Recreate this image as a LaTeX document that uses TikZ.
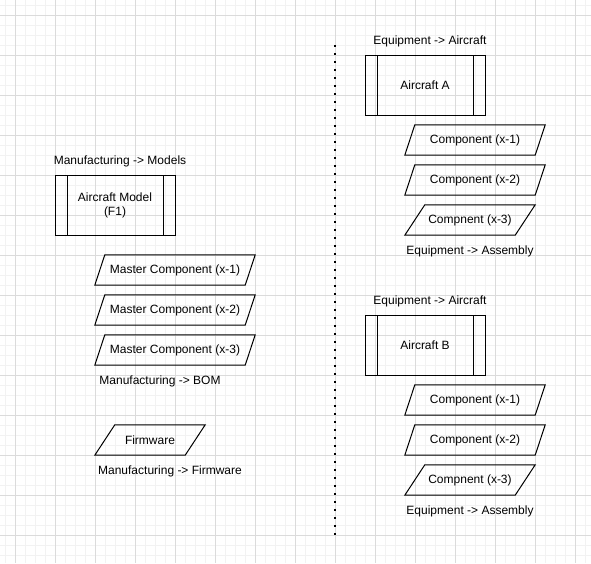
\documentclass[tikz,border=0pt]{standalone}
\usepackage{fontspec}
\setmainfont{Liberation Sans}

\tikzset{
  gridminor/.style={line width=1pt, color=black!5},
  gridmajor/.style={line width=1pt, color=black!14},
  lbl/.style={anchor=base, inner sep=0},
  process/.style={draw, line width=1pt, minimum width=120, minimum height=60, align=center,
    path picture={\draw[line width=1pt]
      ([xshift=12]path picture bounding box.north west) -- ([xshift=12]path picture bounding box.south west)
      ([xshift=-12]path picture bounding box.north east) -- ([xshift=-12]path picture bounding box.south east);}},
  % #1: width of the body, #2: half of the slant
  para/.style 2 args={minimum width=#1, minimum height=30, inner sep=0,
    append after command={\pgfextra{\draw[line width=1pt, line join=miter]
      ([xshift=#2]\tikzlastnode.north west) -- ([xshift=#2]\tikzlastnode.north east) --
      ([xshift=-#2]\tikzlastnode.south east) -- ([xshift=-#2]\tikzlastnode.south west) -- cycle;}}},
  divider/.style={line width=2pt, dash pattern=on 2pt off 6pt}
}

\begin{document}
\begin{tikzpicture}[x=1pt,y=-1pt,font=\fontsize{12}{14}\selectfont]
\useasboundingbox (0,0) rectangle (591,563);
\fill[white] (0,0) rectangle (591,563);

% background grid
\foreach \g in {5,15,...,585} \draw[gridminor] (\g,0) -- (\g,563);
\foreach \g in {5,15,...,555} \draw[gridminor] (0,\g) -- (591,\g);
\foreach \g in {15,55,...,575} \draw[gridmajor] (\g,0) -- (\g,563);
\foreach \g in {15,55,...,555} \draw[gridmajor] (0,\g) -- (591,\g);

% manufacturing side
\node[lbl] (mfgmodels) at (120,164) {Manufacturing -> Models};
\node[process] (model) at (115,205) {Aircraft Model\\(F1)};

\node[para={150}{5}] (mc1) at (175,270) {Master Component (x-1)};
\node[para={150}{5}] (mc2) at (175,310) {Master Component (x-2)};
\node[para={150}{5}] (mc3) at (175,350) {Master Component (x-3)};
\node[lbl] (mfgbom) at (160,384) {Manufacturing -> BOM};

\node[para={90}{10}] (fw) at (150,440) {Firmware};
\node[lbl] (mfgfw) at (170,474) {Manufacturing -> Firmware};

% divider
\coordinate (divtop) at (335,45);
\coordinate (divbot) at (335,535);
\draw[divider] (divtop) -- (divbot);

% equipment side, aircraft A
\node[lbl] (eqairA) at (430,44) {Equipment -> Aircraft};
\node[process] (acA) at (425,85) {Aircraft A};
\node[para={130}{5}] (cA1) at (475,140) {Component (x-1)};
\node[para={130}{5}] (cA2) at (475,180) {Component (x-2)};
\node[para={110}{10}] (cA3) at (470,220) {Compnent (x-3)};
\node[lbl] (eqasmA) at (470,254) {Equipment -> Assembly};

% equipment side, aircraft B
\node[lbl] (eqairB) at (430,304) {Equipment -> Aircraft};
\node[process] (acB) at (425,345) {Aircraft B};
\node[para={130}{5}] (cB1) at (475,400) {Component (x-1)};
\node[para={130}{5}] (cB2) at (475,440) {Component (x-2)};
\node[para={110}{10}] (cB3) at (470,480) {Compnent (x-3)};
\node[lbl] (eqasmB) at (470,514) {Equipment -> Assembly};
\end{tikzpicture}
\end{document}
